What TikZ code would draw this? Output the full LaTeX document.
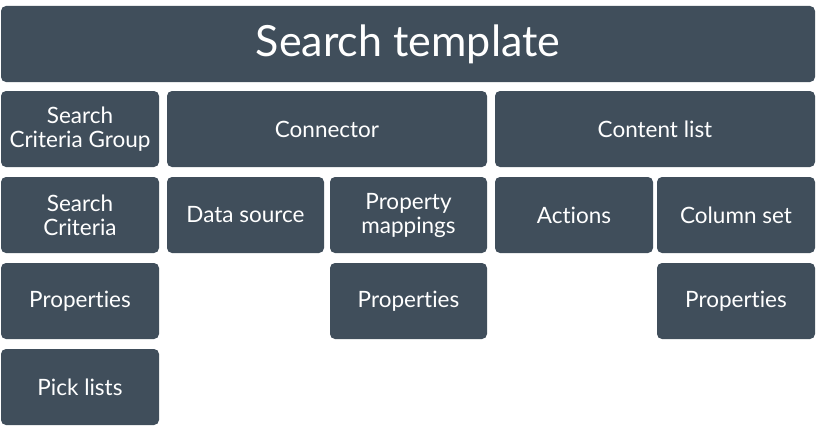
\documentclass[tikz,border=0pt]{standalone}
\usepackage{fontspec}
\setmainfont[Ligatures=CommonOff]{Lato}
\usepackage{tikz}
\usetikzlibrary{positioning}
\definecolor{slate}{HTML}{404E5B}
\tikzstyle{block} = [rectangle, rounded corners=5pt, fill=slate, text=white, inner sep=0pt, minimum width=158pt, minimum height=76pt, align=center, font=\fontsize{22.5}{24}\selectfont]

\begin{document}
\begin{tikzpicture}[x=1pt, y=-1pt]
            \tikzstyle{wide} = [block, minimum width=320pt]
            \tikzstyle{title} = [block, minimum width=814pt, font=\fontsize{43}{48}\selectfont]

            \useasboundingbox (0,0) rectangle (819,428);

            \node[title] (template) at (408,44) {Search template};

            \node[block] (group) at (80,129) {Search\\Criteria Group};
            \node[wide] (connector) at (327,129) {Connector};
            \node[wide] (content) at (655,129) {Content list};

            \node[block] (criteria) at (80,215) {Search\\Criteria};
            \node[block, minimum width=157pt] (source) at (245.5,215) {Data source};
            \node[block, minimum width=157pt] (mappings) at (408.5,215) {Property\\mappings};
            \node[block] (actions) at (574,215) {Actions};
            \node[block] (columns) at (736,215) {Column set};

            \node[block] (critProps) at (80,301) {Properties};
            \node[block, minimum width=157pt] (mapProps) at (408.5,301) {Properties};
            \node[block] (colProps) at (736,301) {Properties};

            \node[block] (picklists) at (80,387) {Pick lists};
\end{tikzpicture}
\end{document}
